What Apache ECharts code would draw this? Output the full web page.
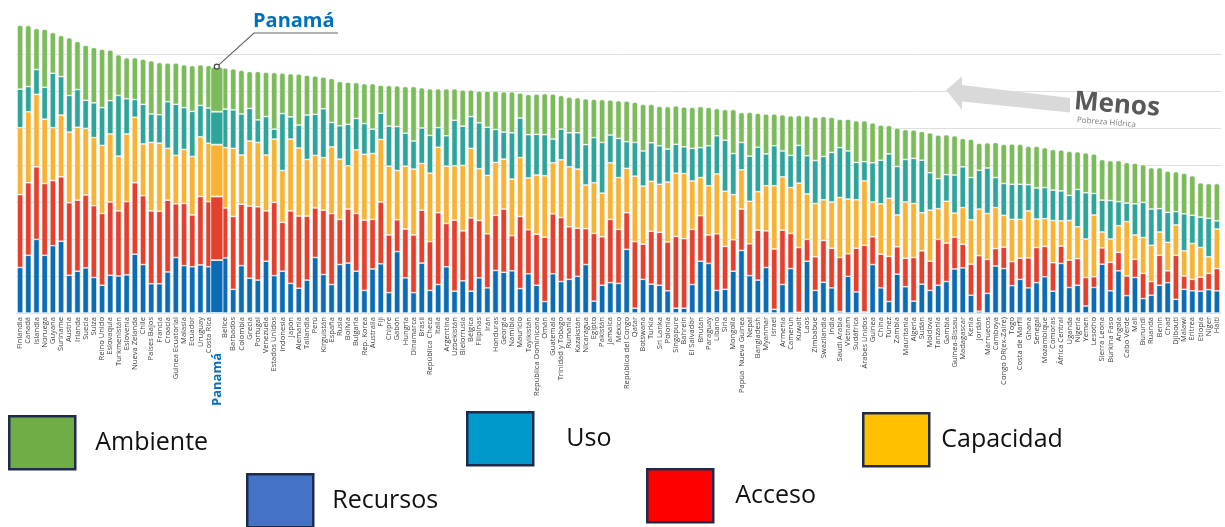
<!DOCTYPE html>
<html><head><meta charset="utf-8">
<script src="https://cdn.jsdelivr.net/npm/echarts@6/dist/echarts.min.js"></script>
<style>html,body{margin:0;padding:0;background:#fff}#c{width:1225px;height:527px}</style>
</head><body><div id="c"></div>
<script>
const countries = ["Finlandia","Canadá","Islandia","Noruega","Guyana","Suriname","Austria","Irlanda","Suecia","Suiza",
"Reino Unido","Eslovaquia","Turkmenistán","Eslovenia","Nueva Zelanda","Chile","Países Bajos","Francia","Croacia","Guinea Ecuatorial",
"Malasia","Ecuador","Uruguay","Costa Rica","Panamá","Belice","Barbados","Colombia","Grecia","Portugal",
"Venezuela","Estados Unidos","Indonesia","Japón","Alemania","Tailandia","Perú","Kirguistán","España","Rusia",
"Bolivia","Bulgaria","Rep. Korea","Australia","Fiji","Chipre","Gabón","Hungría","Dinamarca","Brasil",
"República Checa","Italia","Argentina","Uzbekistán","Bielorrusia","Bélgica","Filipinas","Irán","Honduras","Georgia",
"Namibia","Mauricio","Tayikistán","República Dominicana","Omán","Guatemala","Trinidad y Tobago","Rumania","Kazakstán","Nicaragua",
"Egipto","Pakistán","Jamaica","México","República del Congo","Qatar","Botswana","Turkía","Sri Lanka","Polonia",
"Singapure","Bahrein","El Salvador","Bhutan","Paraguay","Líbano","Siria","Mongolia","Papúa  Nueva Guinea","Nepal",
"Bangladesh","Myanmar","Israel","Armenia","Camerún","Kuwait","Laos","Zimbabue","Swazilandia","India",
"Saudi Arabia","Vietnam","Sudáfrica","Árabes Unidos","Guinea","China","Túnez","Zambia","Mauritania","Algeria",
"Sudán","Moldova","Tanzania","Gambia","Guinea-Bissau","Madagascar","Kenia","Jordán","Marruecos","Camboya",
"Congo DR(ex-Zaire)","Togo","Costa de Marfil","Ghana","Senegal","Mozambique","Comoras","África Central","Uganda","Nigeria",
"Yemen","Lesotho","Sierra Leona","Burkina Faso","Angola","Cabo Verde","Mali","Burundi","Ruanda","Benin",
"Chad","Djibouti","Malawi","Eritrea","Etiopía","Níger","Haití"];

const recursos = [12.3,15.6,19.9,15.6,18.2,19.4,10.2,11.3,12.2,9.6,
7.5,10.2,10.0,10.3,15.9,13.1,7.9,7.9,11.1,15.0,
12.8,12.5,13.0,12.5,14.3,14.9,6.4,12.8,9.4,8.9,
14.0,10.1,11.3,8.0,6.7,8.9,15.0,10.4,7.7,13.1,
13.5,11.3,6.1,11.9,13.3,5.5,16.6,9.5,5.5,13.5,
6.1,7.7,12.5,5.9,8.7,5.9,9.5,6.8,11.5,11.0,
11.4,6.6,10.6,7.5,3.1,10.6,8.5,9.1,9.9,13.1,
3.2,7.5,8.2,8.0,17.2,1.3,9.1,7.8,7.5,6.0,
1.3,1.3,7.7,14.0,13.4,6.1,6.4,11.3,16.9,10.1,
8.9,12.3,1.0,7.7,12.0,0.2,14.0,6.1,8.3,6.8,
0.4,9.9,5.7,0.3,13.1,6.8,3.1,10.5,7.1,3.2,
7.8,6.1,7.5,8.5,11.9,12.2,4.8,0.5,5.3,12.7,
12.0,7.4,9.1,6.8,8.2,9.8,5.9,13.4,6.9,7.5,
1.9,6.9,13.2,6.0,11.4,4.7,9.6,3.9,4.8,7.5,
8.2,3.7,6.4,6.0,5.9,6.3,6.0];

const acceso = [19.7,19.6,19.6,19.4,17.6,17.4,19.6,19.2,19.7,19.4,
19.4,19.8,17.6,19.8,19.3,18.6,19.7,19.6,19.4,14.5,
16.8,14.0,18.5,17.6,17.2,13.5,19.7,16.6,19.5,19.8,
13.6,19.8,13.2,19.6,19.5,17.3,13.4,17.4,19.2,12.2,
14.6,15.6,19.0,13.4,16.7,15.6,8.6,13.2,15.6,14.3,
13.2,19.4,11.7,19.2,13.5,19.8,15.5,14.6,14.9,17.1,
9.5,19.5,11.9,13.8,17.4,16.2,17.3,14.2,13.0,9.7,
18.3,13.1,17.1,14.6,9.9,18.0,9.5,14.3,14.3,13.2,
19.4,18.8,14.9,12.3,7.7,15.3,11.6,8.5,11.2,8.6,
13.5,9.9,16.3,14.7,9.5,17.5,5.9,9.1,11.3,10.7,
14.6,6.1,11.8,18.0,7.5,9.1,12.2,7.4,7.7,11.8,
9.0,7.9,12.4,10.4,8.6,6.4,8.4,15.0,9.2,4.7,
5.8,6.5,5.7,8.1,9.5,8.2,7.7,4.7,7.4,7.2,
7.7,2.9,4.4,7.7,5.0,5.3,4.9,6.8,3.7,8.1,
3.2,11.9,3.6,3.1,3.8,4.4,6.0];

const capacidad = [18.1,19.2,19.6,17.4,14.3,16.7,19.1,19.7,18.0,18.4,
18.4,18.4,14.8,18.3,17.7,14.0,18.5,18.4,14.0,13.1,
14.6,15.8,16.1,15.8,14.0,16.3,18.4,13.3,17.6,17.4,
15.1,17.1,14.0,19.4,18.4,15.3,14.2,14.2,18.0,16.3,
11.7,17.2,17.8,17.8,16.9,18.6,13.3,17.0,17.8,12.6,
18.5,17.7,15.5,14.7,17.7,18.8,14.0,15.8,14.3,13.5,
15.3,15.9,14.0,16.0,16.6,13.8,15.6,16.2,16.0,11.8,
13.7,11.8,15.3,14.0,12.0,17.7,15.7,13.5,13.0,16.2,
17.1,17.6,13.1,10.3,13.3,16.2,14.9,12.2,10.6,11.5,
10.4,12.2,17.1,14.4,12.4,17.4,12.3,14.4,11.0,12.5,
16.2,14.8,13.1,17.4,9.4,13.6,15.7,8.6,15.2,14.6,
10.3,13.8,8.3,11.3,6.5,9.9,12.0,12.6,12.4,11.1,
8.6,11.4,10.5,12.7,7.7,7.5,11.4,6.8,10.7,8.6,
10.4,16.7,4.3,6.3,7.2,14.7,6.6,9.7,9.8,6.3,
7.7,8.2,6.8,9.7,8.0,4.5,10.7];

const uso = [10.4,6.8,6.7,8.6,14.7,10.4,9.9,10.2,7.6,9.4,
10.2,9.0,16.4,9.5,4.8,10.7,7.7,7.7,12.6,13.8,
11.3,12.2,8.5,9.5,8.9,10.4,10.4,11.1,8.8,6.1,
10.4,2.7,15.4,6.0,6.2,12.0,11.1,13.2,6.6,9.0,
11.2,8.5,8.3,6.6,7.1,10.8,11.9,8.9,7.6,9.6,
10.2,5.3,8.2,12.3,10.6,8.6,12.4,13.0,8.9,7.3,
12.5,10.7,11.7,11.0,11.1,6.4,8.3,9.2,9.8,10.9,
12.2,13.7,7.5,10.6,7.2,9.1,9.5,10.4,10.4,8.9,
7.8,7.2,8.8,8.1,10.8,10.3,13.8,11.1,7.4,12.2,
12.0,8.6,10.8,7.0,8.7,10.2,10.3,11.6,11.7,13.4,
13.5,13.0,10.1,5.2,10.6,11.8,12.0,13.1,11.5,12.2,
14.2,10.1,8.1,7.2,10.3,11.0,11.4,10.5,12.3,8.1,
8.6,9.5,9.5,7.1,8.4,8.4,8.2,8.1,6.8,10.1,
12.5,5.8,8.6,10.4,6.5,5.0,8.4,9.5,9.8,6.3,
8.1,3.6,10.0,7.6,8.2,10.4,2.2];

const ambiente = [17.3,16.5,11.1,15.7,11.0,11.1,15.6,13.0,14.9,15.0,
15.8,13.7,11.0,11.1,11.3,12.2,14.4,14.1,10.5,11.2,
11.6,12.4,11.0,11.5,12.2,11.1,11.1,11.8,10.0,13.1,
12.0,15.3,11.0,11.7,13.8,10.8,10.4,8.6,11.9,12.0,
11.4,9.7,10.8,12.3,7.6,11.0,11.0,12.6,14.7,10.9,
12.6,10.5,12.7,8.5,9.8,7.2,8.6,9.8,10.4,10.9,
11.1,6.8,10.9,10.9,11.1,12.2,9.1,9.7,9.5,12.4,
10.4,11.6,9.5,10.2,11.0,10.9,12.6,10.4,10.7,11.5,
10.4,10.8,11.1,11.1,10.4,7.4,8.3,11.9,8.1,11.9,
9.2,10.8,8.6,9.8,10.7,8.1,10.8,11.8,10.8,9.5,
7.7,8.6,11.3,11.1,10.8,9.5,7.7,10.4,8.1,7.7,
7.8,10.8,11.8,10.8,10.6,7.7,10.4,7.3,6.8,9.5,
10.6,10.9,10.8,10.4,11.3,10.8,11.0,11.1,11.9,10.2,
10.8,10.7,11.0,10.8,11.1,11.0,11.0,10.2,11.2,11.1,
11.2,10.8,11.0,10.7,9.3,9.4,10.1];

const HIGHLIGHT = "Panamá";
const hi = countries.indexOf(HIGHLIGHT);

const seriesDefs = [
  ["Recursos", recursos, "#0b6cb5"],
  ["Acceso", acceso, "#e5402d"],
  ["Capacidad", capacidad, "#f8b234"],
  ["Uso", uso, "#2ea59a"],
  ["Ambiente", ambiente, "#7cbb5b"]
];

const legendDefs = [
  {name: "Ambiente", color: "#70ad47", left: 8, top: 415, gap: 15},
  {name: "Uso", color: "#0099cc", left: 466, top: 411, gap: 28},
  {name: "Capacidad", color: "#ffc000", left: 862, top: 412, gap: 7},
  {name: "Recursos", color: "#4472c4", left: 246, top: 473, gap: 14},
  {name: "Acceso", color: "#ff0000", left: 646, top: 468, gap: 17}
];

const series = [];
seriesDefs.forEach(([name, data, color], k) => {
  series.push({
    name, type: "bar", stack: "wpi", xAxisIndex: 0, data,
    barCategoryGap: "27%",
    itemStyle: {color, borderColor: "#fff", borderWidth: 0.6, borderRadius: k === 4 ? [2, 2, 0, 0] : 0},
    emphasis: {disabled: true}
  });
});
seriesDefs.forEach(([name, data, color], k) => {
  series.push({
    name, type: "bar", stack: "hi", xAxisIndex: 1, barWidth: 13, z: 3,
    data: data.map((v, i) => (i === hi ? v : null)),
    itemStyle: {color, borderColor: "#fff", borderWidth: 0.8, borderRadius: k === 4 ? [3, 3, 0, 0] : 0},
    emphasis: {disabled: true}
  });
});

const chart = echarts.init(document.getElementById("c"));
chart.setOption({
  animation: false,
  grid: {left: 16, right: 4, top: 17, bottom: 214, containLabel: false},
  xAxis: [{
    type: "category", data: countries,
    axisLine: {show: false}, axisTick: {show: false},
    axisLabel: {
      interval: 0, rotate: 90, fontSize: 7.6, fontFamily: "Open Sans", color: "#404040", margin: 4,
      formatter: v => (v === HIGHLIGHT ? "{p|" + v + "}" : v),
      rich: {p: {fontSize: 13, fontWeight: "bold", color: "#0070c0", fontFamily: "Open Sans", padding: [0, 36, 0, 0]}}
    }
  }, {
    type: "category", data: countries, show: false
  }],
  yAxis: {
    type: "value", min: 0, max: 80, interval: 10,
    axisLabel: {show: false}, axisLine: {show: false}, axisTick: {show: false},
    splitLine: {show: true, showMaxLine: false, lineStyle: {color: "#e0e0e0", width: 1}}
  },
  legend: legendDefs.map(d => ({
    data: [{name: d.name, itemStyle: {color: d.color}}],
    left: d.left, top: d.top, padding: 0,
    itemWidth: 66, itemHeight: 53, icon: "rect",
    itemStyle: {borderColor: "#1f2b4d", borderWidth: 2.5},
    textStyle: {fontSize: 25, fontFamily: "Open Sans", color: "#111", padding: [0, 0, 0, d.gap]}
  })),
  series
});

const totalHi = recursos[hi] + acceso[hi] + capacidad[hi] + uso[hi] + ambiente[hi];
const pt = chart.convertToPixel({xAxisIndex: 0, yAxisIndex: 0}, [HIGHLIGHT, totalHi]);

chart.setOption({
  graphic: [
    {type: "polyline", z: 10, shape: {points: [[pt[0], pt[1]], [254, 33], [338, 33]]},
     style: {stroke: "#666", lineWidth: 1.2, fill: null}},
    {type: "circle", z: 11, shape: {cx: pt[0], cy: pt[1], r: 2.5},
     style: {fill: "#fff", stroke: "#444", lineWidth: 1.2}},
    {type: "text", z: 10, x: 253, y: 21,
     style: {text: "Panamá", fill: "#0070c0", font: 'bold 20px "Open Sans"', verticalAlign: "middle", align: "left"}},
    {type: "polygon", z: 10,
     shape: {points: [[946, 90], [962, 76.5], [962, 85], [1070, 98], [1070, 112.5], [962, 101.5], [962, 110]]},
     style: {fill: "#d9d9d9"}},
    {type: "text", z: 10, x: 1117, y: 105, rotation: -0.08,
     style: {text: "Menos", fill: "#595959", font: 'bold 26px "Open Sans"', align: "center", verticalAlign: "middle"}},
    {type: "text", z: 10, x: 1077, y: 120, rotation: -0.08,
     style: {text: "Pobreza Hídrica", fill: "#7f7f7f", font: '8px "Open Sans"', align: "left", verticalAlign: "middle"}}
  ]
});
</script>
</body></html>
